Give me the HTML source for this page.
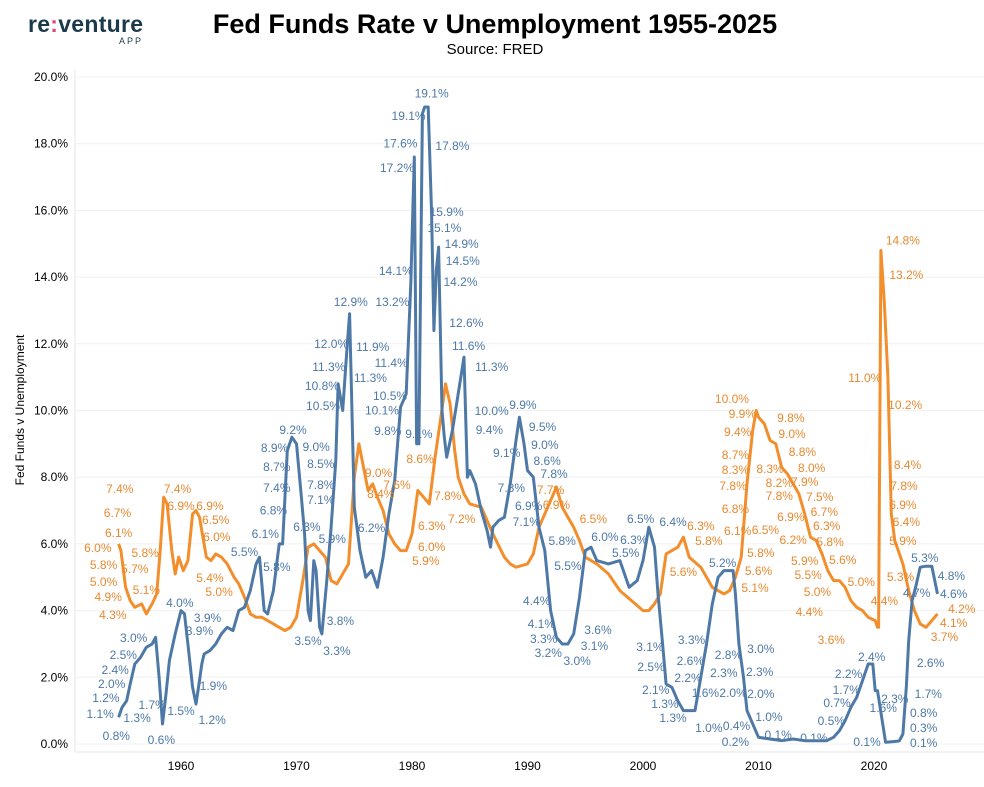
<!DOCTYPE html>
<html><head><meta charset="utf-8">
<style>
body{margin:0;background:#fff;font-family:"Liberation Sans",Arial,sans-serif;}
#wrap{position:relative;width:984px;height:787px;overflow:hidden;}
</style></head>
<body>
<div id="wrap">
<svg id="chart" width="984" height="787">
  <g>
    <text x="28" y="32" font-size="23" font-weight="bold" fill="#1b3a4b" textLength="115">re<tspan fill="#e0457b">:</tspan>venture</text>
    <text x="143" y="44" font-size="9" fill="#1b3a4b" text-anchor="end" letter-spacing="2">APP</text>
  </g>
  <text x="495" y="33" font-size="27" font-weight="bold" text-anchor="middle" fill="#000">Fed Funds Rate v Unemployment 1955-2025</text>
  <text x="495" y="54" font-size="15" text-anchor="middle" fill="#000">Source: FRED</text>
  <text transform="translate(24,410) rotate(-90)" font-size="12" text-anchor="middle" fill="#000">Fed Funds v Unemployment</text>
  <g id="grid"></g><g id="axes"></g><g id="lines"></g><g id="labels"></g>
</svg>
</div>
<script>
const yTicks=[0,2,4,6,8,10,12,14,16,18,20];
const xTicks=[1960,1970,1980,1990,2000,2010,2020];
const fedYears=[1954.6,1954.9,1955.3,1955.6,1956,1956.5,1957,1957.5,1957.8,1958.1,1958.4,1958.7,1959,1959.5,1960,1960.3,1960.6,1961,1961.3,1961.6,1961.8,1962,1962.5,1963,1963.5,1964,1964.5,1965,1965.5,1966,1966.5,1966.8,1967.2,1967.5,1968,1968.5,1968.8,1969.2,1969.6,1970,1970.4,1970.7,1971,1971.2,1971.5,1971.7,1972,1972.2,1972.6,1973,1973.4,1973.6,1974,1974.4,1974.6,1975,1975.5,1976,1976.5,1977,1977.5,1978,1978.5,1979,1979.5,1979.9,1980.2,1980.4,1980.6,1980.9,1981.1,1981.4,1981.7,1981.9,1982.1,1982.3,1982.6,1982.8,1983,1983.5,1984,1984.5,1984.8,1985,1985.5,1986,1986.5,1986.8,1987,1987.5,1988,1988.5,1989,1989.3,1989.7,1990,1990.5,1991,1991.5,1992,1992.5,1993,1993.5,1994,1994.5,1995,1995.5,1996,1997,1998,1998.8,1999.5,2000,2000.5,2001,2001.3,2001.7,2002,2002.5,2003,2003.5,2004,2004.5,2005,2005.5,2006,2006.5,2007,2007.5,2007.8,2008,2008.3,2008.7,2009,2010,2011,2012,2013,2014,2015,2015.9,2016.5,2017,2017.5,2018,2018.5,2019,2019.5,2019.9,2020.1,2020.3,2021,2022,2022.2,2022.5,2022.8,2023,2023.3,2023.6,2024,2024.5,2024.7,2025,2025.5];
const fedVals=[0.8,1.1,1.3,1.8,2.4,2.6,2.9,3.0,3.2,2.0,0.6,1.5,2.5,3.3,4.0,3.9,3.0,1.7,1.2,1.9,2.4,2.7,2.8,3.0,3.3,3.5,3.4,4.0,4.1,4.6,5.4,5.6,4.0,3.9,4.6,6.0,6.0,8.8,9.2,9.0,7.5,6.3,4.0,3.7,5.5,5.2,3.5,3.3,4.8,6.5,8.5,10.8,10.0,12.0,12.9,7.1,5.8,5.0,5.2,4.7,5.6,6.9,7.9,10.1,10.5,13.8,17.6,9.0,9.0,18.9,19.1,19.1,15.9,12.4,14.2,14.9,10.0,9.2,8.6,9.4,10.5,11.6,8.0,8.2,7.8,7.0,6.4,5.9,6.5,6.7,6.8,7.8,9.1,9.8,9.0,8.2,8.0,6.5,5.8,4.0,3.2,3.0,3.0,3.3,4.4,5.8,5.9,5.5,5.4,5.5,4.7,4.9,5.5,6.5,5.9,4.5,3.0,1.8,1.7,1.3,1.0,1.0,1.0,2.0,3.0,4.2,5.0,5.2,5.2,5.2,4.5,3.0,2.0,1.0,0.2,0.15,0.1,0.15,0.1,0.1,0.1,0.2,0.4,0.7,1.1,1.4,1.9,2.4,2.4,1.6,1.6,0.05,0.08,0.1,0.3,1.7,3.1,4.3,4.7,5.3,5.33,5.33,5.33,4.5,4.33];
const unYears=[1954.6,1954.8,1955.2,1955.6,1956,1956.6,1957,1957.5,1957.9,1958.2,1958.5,1958.8,1959.2,1959.5,1959.8,1960.2,1960.6,1961,1961.3,1961.6,1961.9,1962.2,1962.6,1963,1963.5,1964,1964.6,1965,1965.5,1966,1966.5,1967,1968,1968.5,1969,1969.5,1970,1970.5,1971,1971.5,1972,1972.5,1973,1973.5,1974,1974.5,1975,1975.4,1975.8,1976.2,1976.6,1977,1977.5,1978,1978.5,1979,1979.5,1980,1980.5,1981,1981.5,1982,1982.5,1982.9,1983.3,1983.7,1984,1984.5,1985,1986,1987,1988,1988.5,1989,1990,1990.5,1991,1991.5,1992,1992.5,1993,1993.5,1994,1994.5,1995,1996,1997,1998,1999,2000,2000.5,2001,2001.5,2002,2002.5,2003,2003.5,2004,2005,2006,2007,2007.5,2008,2008.5,2009,2009.5,2009.8,2010,2010.5,2011,2011.5,2012,2012.5,2013,2013.5,2014,2014.5,2015,2015.5,2016,2016.5,2017,2017.5,2018,2018.5,2019,2019.5,2020.1,2020.3,2020.4,2020.6,2020.9,2021.2,2021.5,2021.8,2022,2022.5,2023,2023.5,2024,2024.5,2025,2025.5];
const unVals=[6.0,5.8,4.7,4.3,4.1,4.2,3.9,4.2,4.5,5.8,7.4,7.2,5.8,5.1,5.6,5.2,5.5,6.9,7.0,6.8,6.2,5.6,5.5,5.7,5.6,5.4,5.0,4.8,4.4,3.9,3.8,3.8,3.6,3.5,3.4,3.5,3.8,4.8,5.9,6.0,5.8,5.6,4.9,4.8,5.1,5.4,8.0,9.0,8.3,7.6,7.8,7.4,7.0,6.3,6.0,5.8,5.8,6.3,7.6,7.4,7.2,8.6,9.8,10.8,10.2,8.8,8.0,7.5,7.2,7.1,6.3,5.6,5.4,5.3,5.4,5.7,6.5,6.9,7.3,7.7,7.1,6.8,6.5,6.1,5.6,5.4,5.1,4.6,4.3,4.0,4.0,4.2,4.5,5.7,5.8,5.9,6.2,5.6,5.3,4.7,4.5,4.6,5.0,5.6,7.8,9.4,10.0,9.8,9.6,9.1,9.0,8.3,8.1,7.8,7.5,6.9,6.2,6.1,5.7,5.2,4.9,4.9,4.7,4.3,4.1,4.0,3.8,3.7,3.5,3.5,14.8,13.2,11.0,6.9,6.1,5.9,5.4,4.6,4.0,3.6,3.5,3.7,3.9,4.2,4.1,4.2];
const blueLabels=[[1954.4,0.24,"0.8%"],[1953.0,0.9,"1.1%"],[1953.5,1.38,"1.2%"],[1954.0,1.8,"2.0%"],[1954.3,2.22,"2.4%"],[1955.0,2.67,"2.5%"],[1955.9,3.18,"3.0%"],[1956.2,0.78,"1.3%"],[1957.5,1.17,"1.7%"],[1958.3,0.12,"0.6%"],[1959.9,4.23,"4.0%"],[1962.3,3.78,"3.9%"],[1961.6,3.39,"3.9%"],[1962.8,1.74,"1.9%"],[1960,0.99,"1.5%"],[1962.7,0.72,"1.2%"],[1965.5,5.76,"5.5%"],[1968.3,5.31,"5.8%"],[1967.3,6.3,"6.1%"],[1968.0,7.0,"6.8%"],[1968.3,7.68,"7.4%"],[1968.3,8.31,"8.7%"],[1968.1,8.88,"8.9%"],[1969.7,9.42,"9.2%"],[1971.7,8.9,"9.0%"],[1970.9,6.5,"6.3%"],[1971.0,3.09,"3.5%"],[1973.5,2.79,"3.3%"],[1973.8,3.69,"3.8%"],[1973.1,6.15,"5.9%"],[1972.1,7.32,"7.1%"],[1972.1,7.77,"7.8%"],[1972.1,8.4,"8.5%"],[1972.3,10.14,"10.5%"],[1972.2,10.74,"10.8%"],[1972.8,11.3,"11.3%"],[1973.0,12.0,"12.0%"],[1974.7,13.25,"12.9%"],[1976.6,11.9,"11.9%"],[1976.4,10.97,"11.3%"],[1976.5,6.48,"6.2%"],[1977.9,9.39,"9.8%"],[1977.4,10.0,"10.1%"],[1978.1,10.43,"10.5%"],[1978.2,11.42,"11.4%"],[1978.3,13.25,"13.2%"],[1978.6,14.18,"14.1%"],[1978.7,17.27,"17.2%"],[1979.0,18.0,"17.6%"],[1979.7,18.83,"19.1%"],[1981.7,19.5,"19.1%"],[1983.5,17.93,"17.8%"],[1983.0,15.95,"15.9%"],[1982.8,15.47,"15.1%"],[1984.3,14.99,"14.9%"],[1984.4,14.48,"14.5%"],[1984.2,13.85,"14.2%"],[1984.7,12.62,"12.6%"],[1984.9,11.93,"11.6%"],[1986.9,11.3,"11.3%"],[1980.6,9.3,"9.1%"],[1986.9,9.98,"10.0%"],[1986.7,9.42,"9.4%"],[1988.2,8.73,"9.1%"],[1988.6,7.68,"7.8%"],[1989.9,6.66,"7.1%"],[1989.6,10.16,"9.9%"],[1991.3,9.5,"9.5%"],[1991.5,8.97,"9.0%"],[1991.7,8.49,"8.6%"],[1992.3,8.1,"7.8%"],[1990.1,7.14,"6.9%"],[1993.0,6.09,"5.8%"],[1993.5,5.34,"5.5%"],[1990.8,4.29,"4.4%"],[1991.2,3.6,"4.1%"],[1991.4,3.15,"3.3%"],[1991.8,2.73,"3.2%"],[1994.3,2.49,"3.0%"],[1996.1,3.42,"3.6%"],[1995.8,2.94,"3.1%"],[1996.7,6.21,"6.0%"],[1998.5,5.73,"5.5%"],[1999.2,6.12,"6.3%"],[1999.8,6.75,"6.5%"],[2002.6,6.66,"6.4%"],[2000.6,2.91,"3.1%"],[2000.7,2.31,"2.5%"],[2001.1,1.62,"2.1%"],[2001.9,1.2,"1.3%"],[2002.6,0.78,"1.3%"],[2003.9,1.98,"2.2%"],[2004.1,2.49,"2.6%"],[2004.2,3.12,"3.3%"],[2005.4,1.53,"1.6%"],[2005.7,0.48,"1.0%"],[2007.0,2.13,"2.3%"],[2007.4,2.67,"2.8%"],[2007.8,1.53,"2.0%"],[2006.9,5.43,"5.2%"],[2008.1,0.54,"0.4%"],[2008.0,0.06,"0.2%"],[2010.2,2.85,"3.0%"],[2010.1,2.16,"2.3%"],[2010.2,1.5,"2.0%"],[2010.9,0.81,"1.0%"],[2011.7,0.27,"0.1%"],[2014.8,0.18,"0.1%"],[2016.3,0.69,"0.5%"],[2016.8,1.23,"0.7%"],[2017.6,1.62,"1.7%"],[2017.8,2.1,"2.2%"],[2019.8,2.61,"2.4%"],[2020.8,1.08,"1.6%"],[2019.4,0.06,"0.1%"],[2021.8,1.35,"2.3%"],[2024.9,2.43,"2.6%"],[2024.7,1.5,"1.7%"],[2024.3,0.93,"0.8%"],[2024.3,0.48,"0.3%"],[2024.3,0.03,"0.1%"],[2023.7,4.53,"4.7%"],[2024.4,5.58,"5.3%"],[2026.7,5.04,"4.8%"],[2026.9,4.5,"4.6%"]];
const orangeLabels=[[1954.6,6.33,"6.1%"],[1952.8,5.88,"6.0%"],[1953.3,5.37,"5.8%"],[1956.0,5.25,"5.7%"],[1956.9,5.73,"5.8%"],[1953.3,4.86,"5.0%"],[1953.7,4.41,"4.9%"],[1957.0,4.62,"5.1%"],[1954.1,3.87,"4.3%"],[1954.7,7.65,"7.4%"],[1954.5,6.93,"6.7%"],[1959.7,7.65,"7.4%"],[1960,7.14,"6.9%"],[1962.5,7.14,"6.9%"],[1963.0,6.72,"6.5%"],[1963.1,6.21,"6.0%"],[1962.5,4.98,"5.4%"],[1963.3,4.56,"5.0%"],[1977.1,8.13,"9.0%"],[1977.3,7.5,"8.4%"],[1978.7,7.77,"7.6%"],[1980.7,8.55,"8.6%"],[1981.7,6.54,"6.3%"],[1981.7,5.91,"6.0%"],[1981.2,5.49,"5.9%"],[1983.1,7.44,"7.8%"],[1984.3,6.75,"7.2%"],[1992.0,7.62,"7.7%"],[1992.5,7.17,"6.9%"],[1995.7,6.75,"6.5%"],[2005.0,6.54,"6.3%"],[2005.7,6.09,"5.8%"],[2003.5,5.16,"5.6%"],[2007.7,10.34,"10.0%"],[2008.6,9.9,"9.9%"],[2008.2,9.36,"9.4%"],[2008.0,8.67,"8.7%"],[2008.0,8.22,"8.3%"],[2007.8,7.74,"7.8%"],[2008.0,7.05,"6.8%"],[2008.2,6.39,"6.1%"],[2010.6,6.42,"6.5%"],[2010.2,5.73,"5.8%"],[2010.0,5.19,"5.6%"],[2009.7,4.68,"5.1%"],[2012.8,9.78,"9.8%"],[2012.9,9.3,"9.0%"],[2013.8,8.76,"8.8%"],[2014.6,8.28,"8.0%"],[2014.0,7.86,"7.9%"],[2015.3,7.41,"7.5%"],[2015.7,6.96,"6.7%"],[2015.9,6.54,"6.3%"],[2016.2,6.06,"5.8%"],[2017.3,5.52,"5.6%"],[2018.9,4.86,"5.0%"],[2015.1,4.56,"5.0%"],[2014.3,5.07,"5.5%"],[2014.0,5.49,"5.9%"],[2013.0,6.12,"6.2%"],[2012.8,6.81,"6.9%"],[2011.8,7.44,"7.8%"],[2011.8,7.83,"8.2%"],[2011.0,8.25,"8.3%"],[2014.4,3.96,"4.4%"],[2016.3,3.12,"3.6%"],[2020.9,4.29,"4.4%"],[2022.5,15.1,"14.8%"],[2022.8,14.06,"13.2%"],[2019.2,10.97,"11.0%"],[2022.7,10.16,"10.2%"],[2022.9,8.37,"8.4%"],[2022.6,7.74,"7.8%"],[2022.5,7.17,"6.9%"],[2022.8,6.66,"6.4%"],[2022.5,6.09,"5.9%"],[2022.3,5.01,"5.3%"],[2027.6,4.05,"4.2%"],[2026.9,3.63,"4.1%"],[2026.1,3.21,"3.7%"]];

const NS="http://www.w3.org/2000/svg";
const X0=75,X1=985,YT=77,YB=744;
function xs(yr){return 181+(yr-1960)*11.55;}
function ys(v){return YB-(v/20)*(YB-YT);}
function mk(tag,attrs,parent){const e=document.createElementNS(NS,tag);for(const k in attrs)e.setAttribute(k,attrs[k]);parent.appendChild(e);return e;}
const grid=document.getElementById('grid'),axes=document.getElementById('axes'),lines=document.getElementById('lines'),labels=document.getElementById('labels');
mk('line',{x1:X0,x2:X0,y1:70,y2:752,stroke:'#e6e6e6'},grid);
mk('line',{x1:X0,x2:X1,y1:752,y2:752,stroke:'#e6e6e6'},grid);
yTicks.forEach(t=>{
  const g=mk('line',{x1:X0,x2:X1,y1:ys(t),y2:ys(t),stroke:'#f0f0f0'},grid);
  
  
  const tx=mk('text',{x:68,y:ys(t)+4,'font-size':12,'text-anchor':'end',fill:'#000'},axes);
  tx.textContent=t.toFixed(1)+'%';
  
  
});
xTicks.forEach(t=>{
  const tx=mk('text',{x:xs(t),y:770,'font-size':12,'text-anchor':'middle',fill:'#000'},axes);
  tx.textContent=t;
  
  
});
function path(yrs,vals,color,name){
  const d=yrs.map((y,i)=>(i?'L':'M')+xs(y).toFixed(1)+','+ys(vals[i]).toFixed(1)).join('');
  const p=mk('path',{d:d,fill:'none',stroke:color,'stroke-width':3,'stroke-linejoin':'round'},lines);
  
  
}
path(unYears,unVals,'#f28e2b','unemployment-line');
path(fedYears,fedVals,'#4e79a7','fed-funds-line');
function lbl(arr,color,name){
  arr.forEach(l=>{
    const t=mk('text',{x:xs(l[0]),y:ys(l[1])+4,'font-size':12,'text-anchor':'middle',fill:color},labels);
    t.textContent=l[2];
    
    
  });
}
lbl(orangeLabels,'#e8892f','unemployment-label');
lbl(blueLabels,'#4e79a7','fed-funds-label');
</script>
</body></html>
